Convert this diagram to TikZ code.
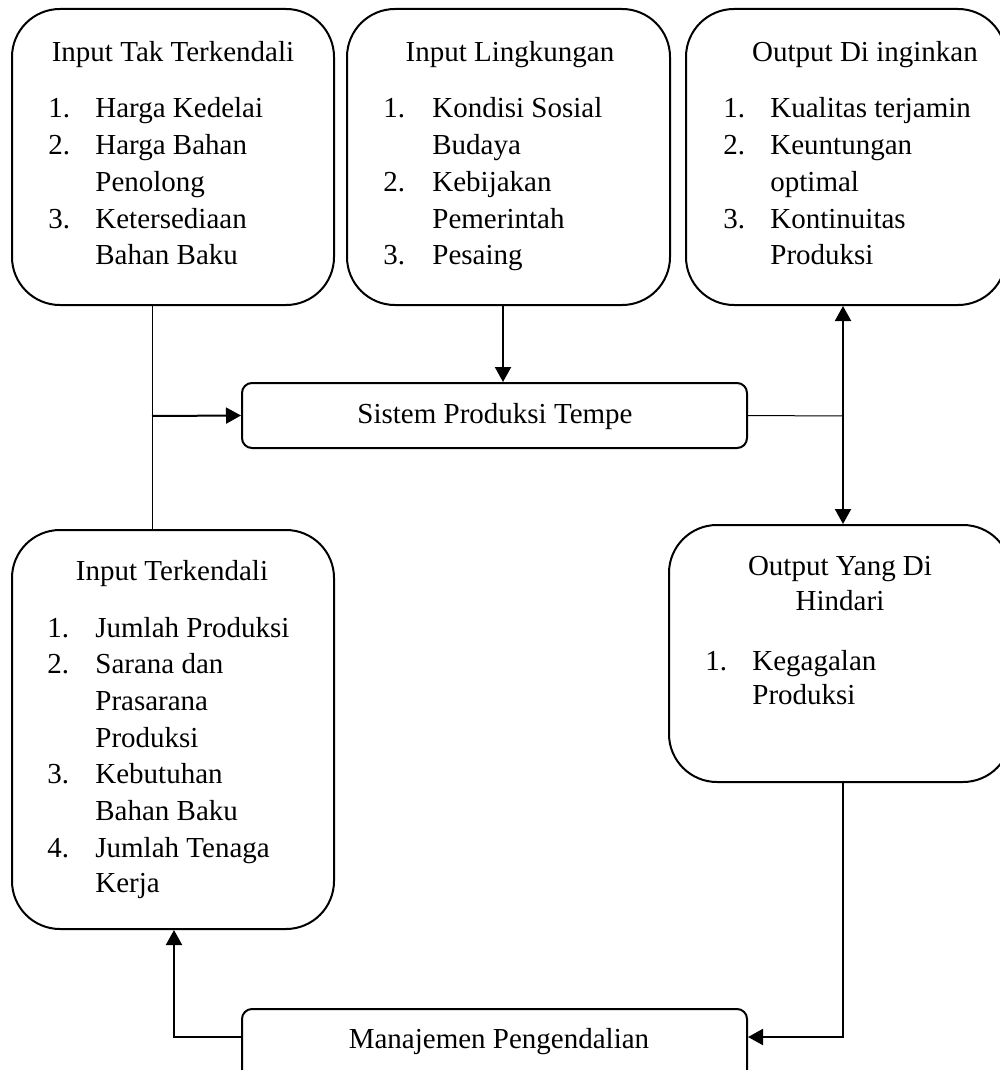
\documentclass[tikz,border=0pt]{standalone}
\usepackage{fontspec}
\setmainfont{Liberation Serif}
\usetikzlibrary{fit,arrows.meta}
\tikzset{
  panel/.style={draw, line width=1pt, rounded corners=24pt, inner sep=0pt},
  bar/.style={draw, line width=1pt, rounded corners=5pt, inner sep=0pt},
  txt/.style={inner sep=0pt, font=\fontsize{14.5}{18}\selectfont},
  head/.style={txt, anchor=base},
  item/.style={txt, anchor=base west},
  flow/.style={line width=1pt, -{Triangle[length=7.5pt,width=8pt]}},
  twoway/.style={line width=1pt, {Triangle[length=7.5pt,width=8pt]}-{Triangle[length=7.5pt,width=8pt]}},
  link/.style={line width=0.5pt},
}
\begin{document}
\begin{tikzpicture}[x=0.5pt,y=-0.5pt]
\useasboundingbox (0,0) rectangle (1000,1070);

% boxes
\node[panel, fit={(12,9)(334,305)}] (b1) {};
\node[panel, fit={(347,9)(670,305)}] (b2) {};
\node[panel, fit={(686,9)(1006,305)}] (b3) {};
\node[panel, fit={(12,530)(334,929)}] (b4) {};
\node[panel, fit={(669,525)(1011,782)}] (b5) {};
\node[bar, fit={(242,383)(747,448)}] (sis) {};
\node[bar, fit={(242,1009)(747,1090)}] (mg) {};

% Input Tak Terkendali
\node[head] (b1h) at (173,62) {Input Tak Terkendali};
\node[item] (b1n1) at (48,118) {1.};
\node[item] (b1t1) at (95,118) {Harga Kedelai};
\node[item] (b1n2) at (48,155) {2.};
\node[item] (b1t2) at (95,155) {Harga Bahan};
\node[item] (b1t2b) at (95,191) {Penolong};
\node[item] (b1n3) at (48,228) {3.};
\node[item] (b1t3) at (95,228) {Ketersediaan};
\node[item] (b1t3b) at (95,264) {Bahan Baku};

% Input Lingkungan
\node[head] (b2h) at (510,62) {Input Lingkungan};
\node[item] (b2n1) at (383,118) {1.};
\node[item] (b2t1) at (432,118) {Kondisi Sosial};
\node[item] (b2t1b) at (432,155) {Budaya};
\node[item] (b2n2) at (383,191) {2.};
\node[item] (b2t2) at (432,191) {Kebijakan};
\node[item] (b2t2b) at (432,228) {Pemerintah};
\node[item] (b2n3) at (383,264) {3.};
\node[item] (b2t3) at (432,264) {Pesaing};

% Output Di inginkan
\node[head] (b3h) at (865,62) {Output Di inginkan};
\node[item] (b3n1) at (723,118) {1.};
\node[item] (b3t1) at (770,118) {Kualitas terjamin};
\node[item] (b3n2) at (723,155) {2.};
\node[item] (b3t2) at (770,155) {Keuntungan};
\node[item] (b3t2b) at (770,191) {optimal};
\node[item] (b3n3) at (723,228) {3.};
\node[item] (b3t3) at (770,228) {Kontinuitas};
\node[item] (b3t3b) at (770,264) {Produksi};

% Input Terkendali
\node[head] (b4h) at (172,580) {Input Terkendali};
\node[item] (b4n1) at (47,637) {1.};
\node[item] (b4t1) at (95,637) {Jumlah Produksi};
\node[item] (b4n2) at (47,673) {2.};
\node[item] (b4t2) at (95,673) {Sarana dan};
\node[item] (b4t2b) at (95,710) {Prasarana};
\node[item] (b4t2c) at (95,747) {Produksi};
\node[item] (b4n3) at (47,783) {3.};
\node[item] (b4t3) at (95,783) {Kebutuhan};
\node[item] (b4t3b) at (95,820) {Bahan Baku};
\node[item] (b4n4) at (47,857) {4.};
\node[item] (b4t4) at (95,857) {Jumlah Tenaga};
\node[item] (b4t4b) at (95,892) {Kerja};

% Output Yang Di Hindari
\node[head] (b5h) at (840,575) {Output Yang Di};
\node[head] (b5hb) at (840,610) {Hindari};
\node[item] (b5n1) at (705,670) {1.};
\node[item] (b5t1) at (752,670) {Kegagalan};
\node[item] (b5t1b) at (752,704) {Produksi};

% bar labels
\node[head] (sish) at (495,423) {Sistem Produksi Tempe};
\node[head] (mgh) at (499,1048) {Manajemen Pengendalian};

% junction points
\coordinate (j1) at (152,416);
\coordinate (j2) at (503,340);
\coordinate (j3) at (843,416);
\coordinate (j4) at (843,1037);
\coordinate (j5) at (174,1037);

% connectors
\draw[link] (j1 |- b1.south) -- (j1 |- b4.north);
\draw[flow] (j1) -- (sis.west);
\draw[flow] (j2 |- b2.south) -- (j2 |- sis.north);
\draw[link] (sis.east) -- (j3);
\draw[twoway] (j3 |- b3.south) -- (j3 |- b5.north);
\draw[flow] (j3 |- b5.south) -- (j4) -- (j4 -| mg.east);
\draw[flow] (j5 -| mg.west) -- (j5) -- (j5 |- b4.south);
\end{tikzpicture}
\end{document}
